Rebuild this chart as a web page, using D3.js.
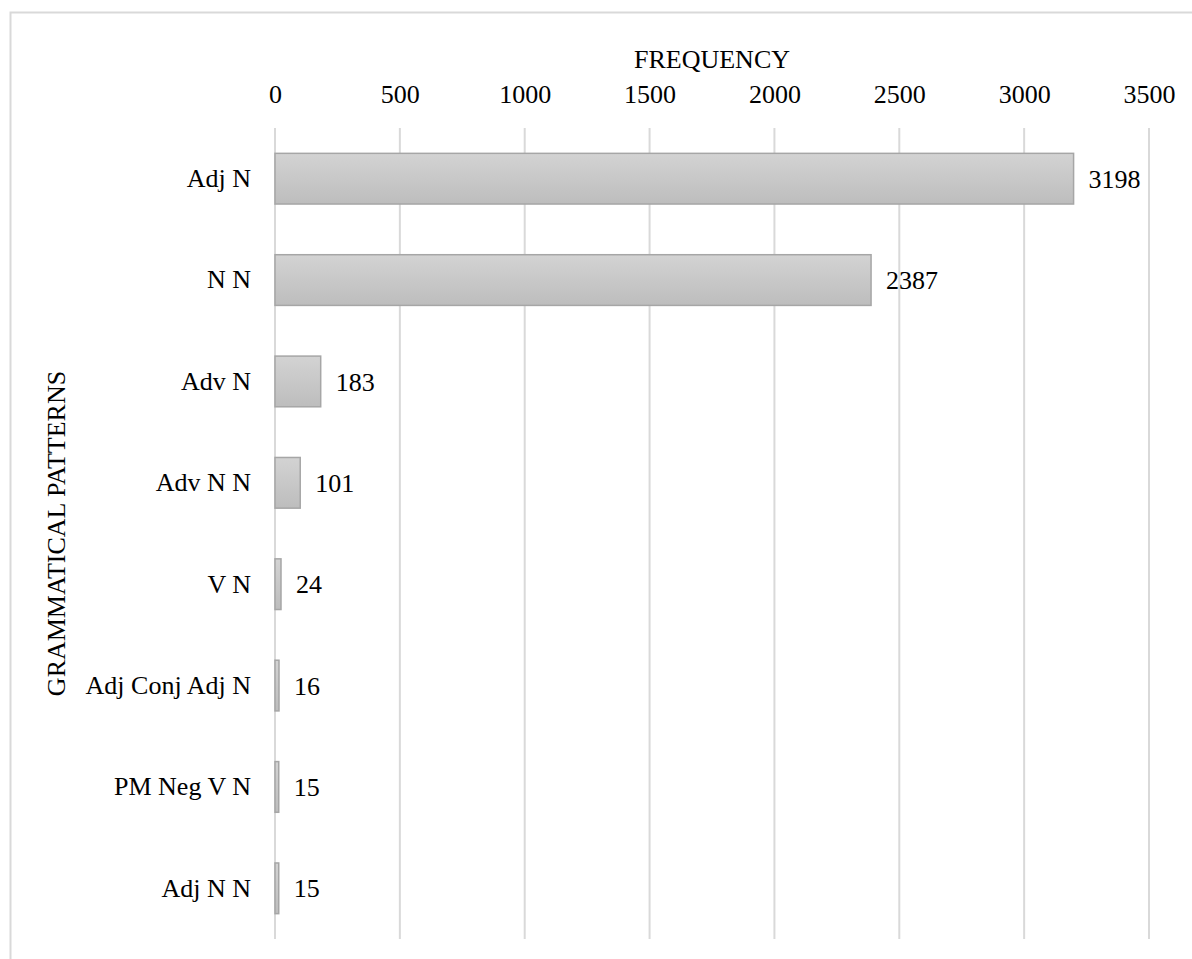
<!DOCTYPE html>
<html>
<head>
<meta charset="utf-8">
<script src="https://cdn.jsdelivr.net/npm/d3@7"></script>
<style>
  html, body { margin: 0; padding: 0; background: #fff; }
  svg { display: block; }
</style>
</head>
<body>
<svg id="chart" width="1192" height="959"></svg>
<script>
// Grammatical patterns and their frequencies
const categories = ["Adj N", "N N", "Adv N", "Adv N N", "V N", "Adj Conj Adj N", "PM Neg V N", "Adj N N"];
const frequencies = [3198, 2387, 183, 101, 24, 16, 15, 15];
const tickValues = [0, 500, 1000, 1500, 2000, 2500, 3000, 3500];

const FONT = "Liberation Serif, Tinos, Times New Roman, serif";
const FONT_SIZE = "26px";

const svg = d3.select("#chart")
  .attr("font-family", FONT)
  .attr("font-size", FONT_SIZE);
const W = 1192, H = 959;

const plot = { left: 275, right: 1149, top: 128, bottom: 939 };

// Chart frame (right and bottom edges run past the canvas)
svg.append("rect")
  .attr("x", 10.5).attr("y", 12.5)
  .attr("width", W + 20).attr("height", H + 20)
  .attr("fill", "#fff")
  .attr("stroke", "#d9d9d9")
  .attr("stroke-width", 2);

const x = d3.scaleLinear().domain([0, 3500]).range([plot.left, plot.right]);
const y = d3.scaleBand().domain(categories)
  .range([plot.top, plot.bottom])
  .paddingInner(0.5).paddingOuter(0.25);

// Bar gradient
const defs = svg.append("defs");
const grad = defs.append("linearGradient")
  .attr("id", "barFill").attr("x1", 0).attr("y1", 0).attr("x2", 0).attr("y2", 1);
grad.append("stop").attr("offset", "0%").attr("stop-color", "#d3d3d3");
grad.append("stop").attr("offset", "100%").attr("stop-color", "#bdbdbd");

// Vertical gridlines
svg.append("g")
  .selectAll("line")
  .data(tickValues)
  .join("line")
  .attr("x1", d => x(d)).attr("x2", d => x(d))
  .attr("y1", plot.top).attr("y2", plot.bottom)
  .attr("stroke", "#d9d9d9")
  .attr("stroke-width", 2);

// Top axis tick labels
const xAxis = d3.axisTop(x).tickValues(tickValues).tickSize(0).tickPadding(0).tickFormat(d3.format("d"));
const gx = svg.append("g").attr("transform", "translate(0,103)").call(xAxis)
  .attr("font-family", FONT).attr("font-size", FONT_SIZE);
gx.select(".domain").remove();
gx.selectAll("text").attr("dy", 0).attr("fill", "#000");

// Category labels
const yAxis = d3.axisLeft(y).tickSize(0).tickPadding(0);
const gy = svg.append("g").attr("transform", `translate(${plot.left - 24},0)`).call(yAxis)
  .attr("font-family", FONT).attr("font-size", FONT_SIZE);
gy.select(".domain").remove();
gy.selectAll("text").attr("fill", "#000");

// Bars
svg.append("g")
  .selectAll("rect")
  .data(categories)
  .join("rect")
  .attr("x", x(0))
  .attr("y", d => y(d))
  .attr("width", (d, i) => x(frequencies[i]) - x(0))
  .attr("height", y.bandwidth())
  .attr("fill", "url(#barFill)")
  .attr("stroke", "#a6a6a6")
  .attr("stroke-width", 1.5);

// Value labels
svg.append("g")
  .selectAll("text")
  .data(categories)
  .join("text")
  .attr("x", (d, i) => x(frequencies[i]) + 15)
  .attr("y", d => y(d) + y.bandwidth() / 2)
  .attr("dy", "0.35em")
  .attr("fill", "#000")
  .text((d, i) => frequencies[i]);

// Axis titles
svg.append("text")
  .attr("x", (plot.left + plot.right) / 2).attr("y", 68)
  .attr("text-anchor", "middle")
  .attr("fill", "#000")
  .text("FREQUENCY");

svg.append("text")
  .attr("transform", `translate(65,${(plot.top + plot.bottom) / 2}) rotate(-90)`)
  .attr("text-anchor", "middle")
  .attr("fill", "#000")
  .text("GRAMMATICAL PATTERNS");
</script>
</body>
</html>
